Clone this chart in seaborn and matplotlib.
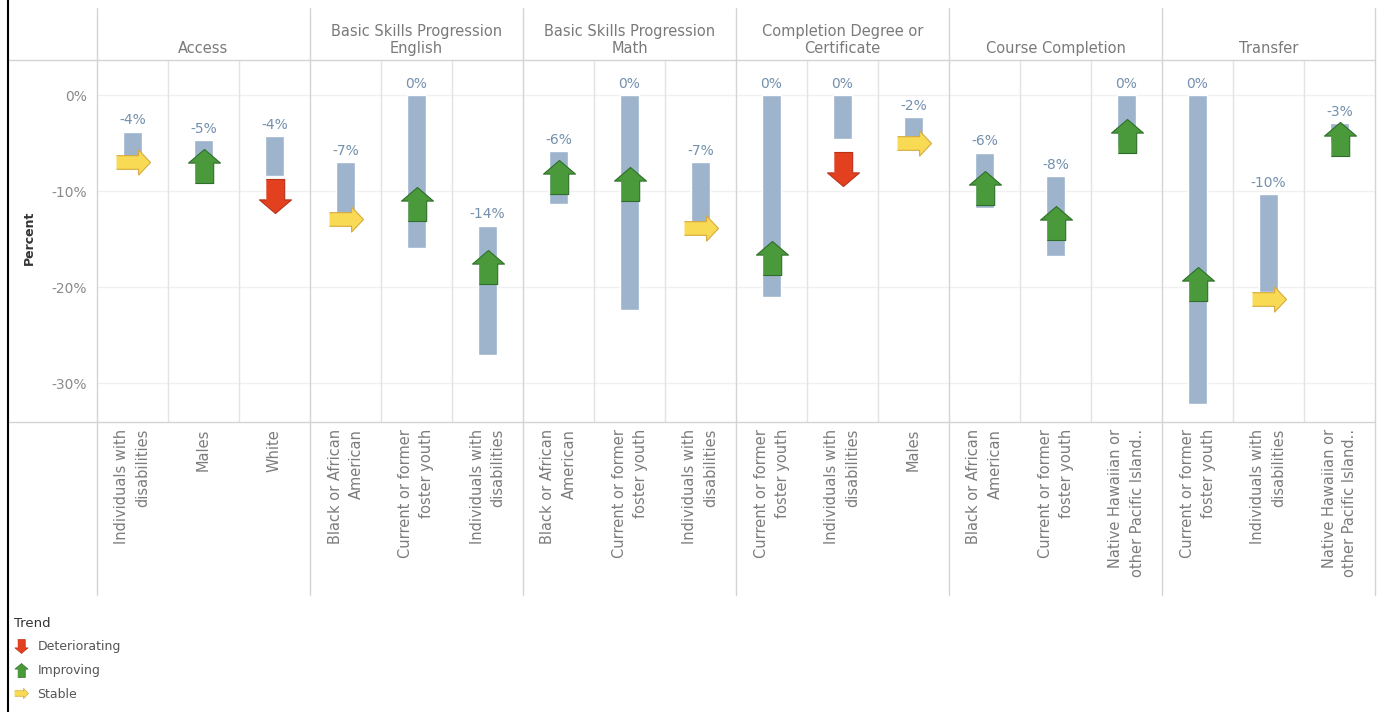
import pandas as pd
import seaborn as sns
import matplotlib.pyplot as plt
from matplotlib.lines import Line2D

# one column per outcome / population pair
groups = ["Access", "Access", "Access",
          "Basic Skills Progression\nEnglish", "Basic Skills Progression\nEnglish", "Basic Skills Progression\nEnglish",
          "Basic Skills Progression\nMath", "Basic Skills Progression\nMath", "Basic Skills Progression\nMath",
          "Completion Degree or\nCertificate", "Completion Degree or\nCertificate", "Completion Degree or\nCertificate",
          "Course Completion", "Course Completion", "Course Completion",
          "Transfer", "Transfer", "Transfer"]
populations = ["Individuals with\ndisabilities", "Males", "White",
               "Black or African\nAmerican", "Current or former\nfoster youth", "Individuals with\ndisabilities",
               "Black or African\nAmerican", "Current or former\nfoster youth", "Individuals with\ndisabilities",
               "Current or former\nfoster youth", "Individuals with\ndisabilities", "Males",
               "Black or African\nAmerican", "Current or former\nfoster youth", "Native Hawaiian or\nother Pacific Island..",
               "Current or former\nfoster youth", "Individuals with\ndisabilities", "Native Hawaiian or\nother Pacific Island.."]
gap_high = [-3.8, -4.7, -4.3, -7.0, 0.0, -13.6, -5.8, 0.0, -7.0, 0.0, 0.0, -2.3, -6.0, -8.4, 0.0, 0.0, -10.3, -2.9]
gap_low = [-7.2, -8.8, -8.4, -13.0, -15.9, -27.1, -11.4, -22.4, -14.0, -21.0, -4.6, -4.6, -11.8, -16.8, -5.5, -32.2, -20.5, -5.0]
gap_latest = [-7.0, -7.4, -10.5, -12.9, -11.4, -17.9, -8.5, -9.3, -13.8, -17.0, -7.7, -5.0, -9.7, -13.3, -4.3, -19.7, -21.2, -4.6]
trend = ["Stable", "Improving", "Deteriorating",
         "Stable", "Improving", "Improving",
         "Improving", "Improving", "Stable",
         "Improving", "Deteriorating", "Stable",
         "Improving", "Improving", "Improving",
         "Improving", "Stable", "Improving"]
y_ticks = [0, -10, -20, -30]
trend_order = ["Deteriorating", "Improving", "Stable"]

df = pd.DataFrame({"group": groups, "population": populations, "high": gap_high,
                   "low": gap_low, "latest": gap_latest, "trend": trend})
df["pos"] = range(len(df))

sns.set_style("white")
plt.rcParams["font.family"] = ["DejaVu Sans"]

W, H = 1384, 712
fig = plt.figure(figsize=(W / 100, H / 100), dpi=100)


def fx(px):
    return px / W


def fy(py):
    return 1 - py / H


def fig_line(x0, y0, x1, y1, color="#d4d4d4", lw=1.0):
    fig.add_artist(Line2D([fx(x0), fx(x1)], [fy(y0), fy(y1)], color=color, lw=lw,
                          transform=fig.transFigure))


ax = fig.add_axes([fx(97), fy(422), fx(1375) - fx(97), fy(60) - fy(422)])

# arrow glyphs for the trend marks
up = [(-0.27, -0.5), (0.27, -0.5), (0.27, 0.1), (0.47, 0.1), (0, 0.5), (-0.47, 0.1), (-0.27, 0.1)]
down = [(x, -y) for x, y in up]
right = [(-0.5, -0.2), (0.15, -0.2), (0.15, -0.37), (0.5, 0), (0.15, 0.37), (0.15, 0.2), (-0.5, 0.2)]
arrows = {"Deteriorating": down, "Improving": up, "Stable": right}
colors = {"Deteriorating": ("#e2401f", "#b8321a"),
          "Improving": ("#4a9a3b", "#2f6e2a"),
          "Stable": ("#f8da55", "#d6aa3c")}

ax.bar(df["pos"], df["high"] - df["low"], bottom=df["low"], width=0.26, color="#9db4cc", zorder=2)

for name, sub in df.groupby("trend"):
    sns.scatterplot(data=sub, x="pos", y="latest", marker=arrows[name], s=600,
                    color=colors[name][0], edgecolor=colors[name][1], linewidth=0.8,
                    zorder=3, legend=False, ax=ax)

for _, r in df.iterrows():
    ax.annotate(f"{int(round(r['high']))}%", (r["pos"], r["high"]), xytext=(0, 3),
                textcoords="offset points", ha="center", va="bottom",
                fontsize=10, color="#7390ad")

ax.set_xlim(-0.5, len(df) - 0.5)
ax.set_ylim(-34.06, 3.65)
ax.set_yticks(y_ticks, labels=[f"{t}%" for t in y_ticks])
ax.set_xticks(df["pos"], labels=df["population"])
ax.tick_params(axis="y", length=0, pad=7, labelsize=10, labelcolor="#8a8a8a")
ax.tick_params(axis="x", length=0, pad=5, labelsize=10.5, labelcolor="#7c7c7c", rotation=90)
for lab in ax.get_xticklabels():
    lab.set_multialignment("right")
    lab.set_linespacing(1.5)
ax.set_xlabel("")
ax.set_ylabel("Percent", fontsize=9, fontweight="bold", color="#333333")
ax.yaxis.set_label_coords((36 - 97) / 1278, 0.51)
ax.grid(axis="y", color="#f0f0f0", lw=1)
ax.set_axisbelow(True)
for s in ax.spines.values():
    s.set_visible(False)

# separators between sub columns and the header row
group_edges = [-0.5]
for i in range(1, len(df)):
    if df["group"][i] != df["group"][i - 1]:
        group_edges.append(i - 0.5)
    else:
        ax.axvline(i - 0.5, color="#e3e3e3", lw=1, zorder=1)
group_edges.append(len(df) - 0.5)

xpix = lambda v: 97 + (v + 0.5) * (1375 - 97) / len(df)
for e in group_edges:
    fig_line(xpix(e), 8, xpix(e), 595)
fig_line(8, 60, 1375, 60)
fig_line(8, 422, 1375, 422)

for name, sub in df.groupby("group", sort=False):
    ax.text(sub["pos"].mean(), (422 - 56) / 362, name, transform=ax.get_xaxis_transform(),
            ha="center", va="bottom", multialignment="center", fontsize=10.5, color="#7a7a7a")

# screenshot frame on the left
fig.add_artist(Line2D([fx(8), fx(8)], [0, 1], color="black", lw=1.5, transform=fig.transFigure))

handles = [Line2D([], [], marker=arrows[t], linestyle="none", markersize=10,
                  markerfacecolor=colors[t][0], markeredgecolor=colors[t][1], markeredgewidth=0.5)
           for t in trend_order]
leg = fig.legend(handles, trend_order, title="Trend", loc="upper left",
                 bbox_to_anchor=(fx(5), fy(608)), frameon=False, fontsize=9, title_fontsize=9.5,
                 alignment="left", handlelength=1.1, handletextpad=0.8, labelspacing=0.85, borderpad=0.2)
leg.get_title().set_color("#333333")
for t in leg.get_texts():
    t.set_color("#555555")

fig.savefig("out.png", dpi=100)
